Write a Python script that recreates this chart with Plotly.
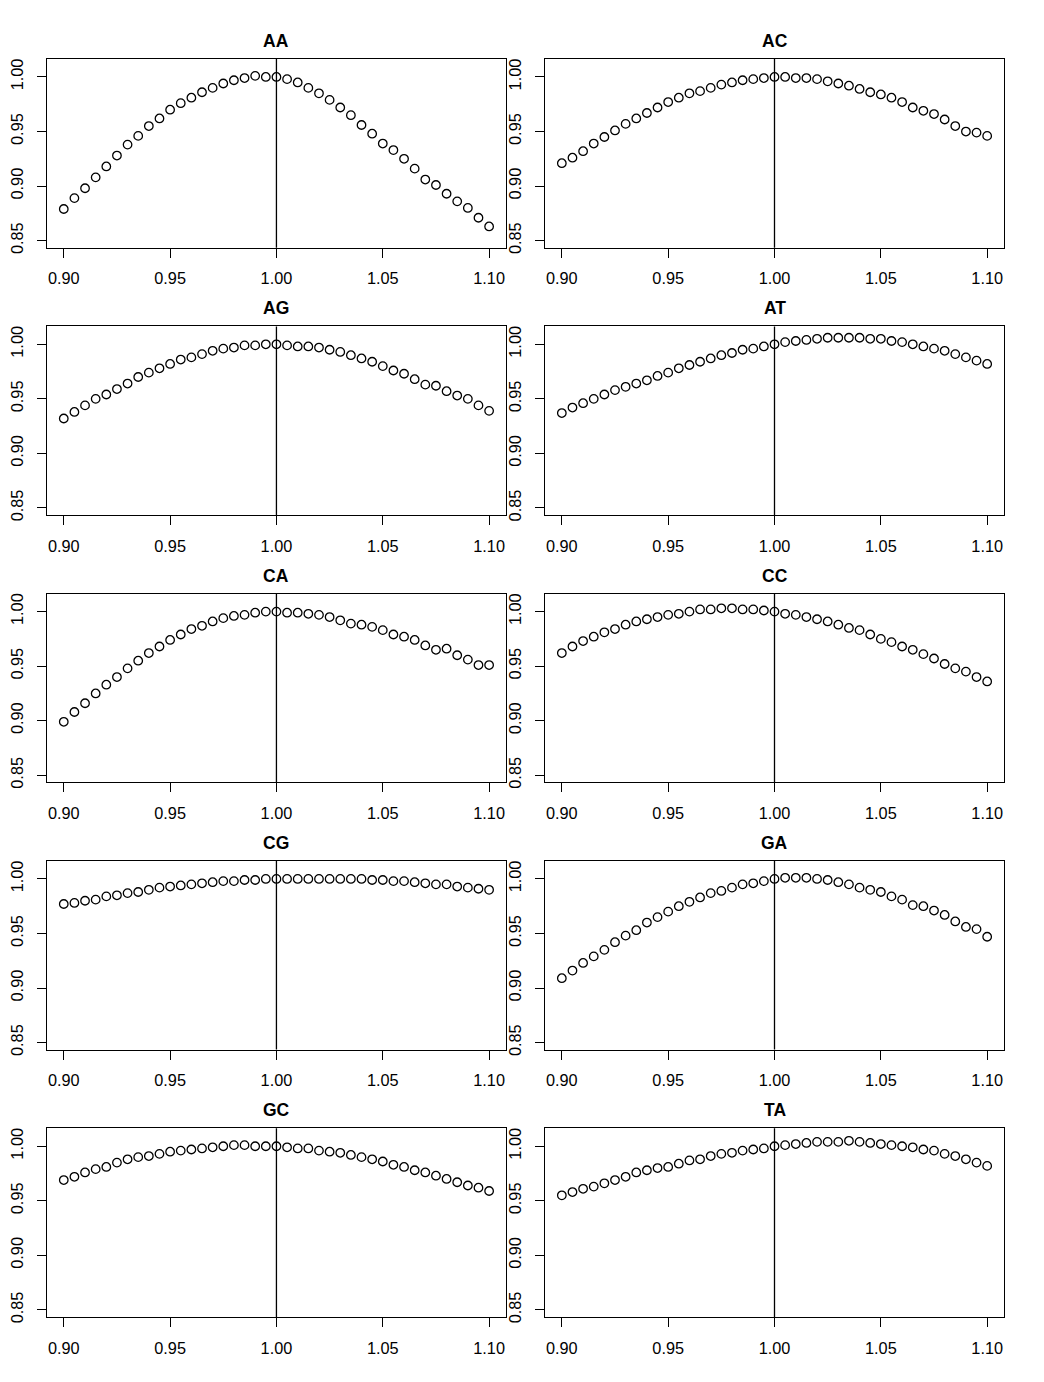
import plotly.graph_objects as go

x_vals = [round(0.90 + 0.005 * i, 3) for i in range(41)]

panel_names = ["AA", "AC", "AG", "AT", "CA", "CC", "CG", "GA", "GC", "TA"]

AA = [0.879, 0.889, 0.898, 0.908, 0.918, 0.928, 0.938, 0.946, 0.955, 0.962,
      0.970, 0.976, 0.981, 0.986, 0.990, 0.994, 0.997, 0.999, 1.001, 1.000,
      1.000, 0.998, 0.995, 0.990, 0.985, 0.979, 0.972, 0.965, 0.956, 0.948,
      0.939, 0.933, 0.925, 0.916, 0.906, 0.901, 0.893, 0.886, 0.880, 0.871,
      0.863]
AC = [0.921, 0.926, 0.932, 0.939, 0.945, 0.951, 0.957, 0.962, 0.967, 0.972,
      0.977, 0.981, 0.985, 0.987, 0.990, 0.993, 0.995, 0.997, 0.998, 0.999,
      1.000, 1.000, 0.999, 0.999, 0.998, 0.996, 0.994, 0.992, 0.989, 0.986,
      0.984, 0.981, 0.977, 0.972, 0.969, 0.966, 0.961, 0.955, 0.950, 0.949,
      0.946]
AG = [0.932, 0.938, 0.944, 0.950, 0.954, 0.959, 0.964, 0.970, 0.974, 0.978,
      0.982, 0.986, 0.988, 0.991, 0.994, 0.996, 0.997, 0.999, 0.999, 1.000,
      1.000, 0.999, 0.998, 0.998, 0.997, 0.995, 0.993, 0.990, 0.987, 0.984,
      0.980, 0.976, 0.973, 0.968, 0.963, 0.962, 0.957, 0.953, 0.950, 0.944,
      0.939]
AT = [0.937, 0.942, 0.946, 0.950, 0.954, 0.958, 0.961, 0.964, 0.967, 0.971,
      0.974, 0.978, 0.981, 0.984, 0.987, 0.990, 0.992, 0.995, 0.996, 0.998,
      1.000, 1.002, 1.003, 1.004, 1.005, 1.006, 1.006, 1.006, 1.006, 1.005,
      1.005, 1.003, 1.002, 1.000, 0.998, 0.996, 0.994, 0.991, 0.988, 0.985,
      0.982]
CA = [0.899, 0.908, 0.916, 0.925, 0.933, 0.940, 0.948, 0.955, 0.962, 0.968,
      0.974, 0.979, 0.984, 0.987, 0.991, 0.994, 0.996, 0.997, 0.999, 1.000,
      1.000, 0.999, 0.999, 0.998, 0.997, 0.995, 0.992, 0.989, 0.988, 0.986,
      0.983, 0.979, 0.977, 0.974, 0.969, 0.965, 0.966, 0.960, 0.956, 0.951,
      0.951]
CC = [0.962, 0.968, 0.973, 0.977, 0.981, 0.984, 0.988, 0.991, 0.993, 0.995,
      0.997, 0.998, 1.000, 1.002, 1.002, 1.003, 1.003, 1.002, 1.002, 1.001,
      1.000, 0.998, 0.997, 0.995, 0.993, 0.991, 0.988, 0.985, 0.983, 0.979,
      0.975, 0.972, 0.968, 0.965, 0.961, 0.957, 0.952, 0.948, 0.945, 0.940,
      0.936]
CG = [0.977, 0.978, 0.980, 0.981, 0.984, 0.985, 0.987, 0.988, 0.990, 0.992,
      0.993, 0.994, 0.995, 0.996, 0.997, 0.998, 0.998, 0.999, 0.999, 1.000,
      1.000, 1.000, 1.000, 1.000, 1.000, 1.000, 1.000, 1.000, 1.000, 0.999,
      0.999, 0.998, 0.998, 0.997, 0.996, 0.995, 0.995, 0.993, 0.992, 0.991,
      0.990]
GA = [0.909, 0.916, 0.923, 0.929, 0.935, 0.942, 0.948, 0.953, 0.960, 0.965,
      0.970, 0.975, 0.979, 0.983, 0.987, 0.989, 0.992, 0.995, 0.996, 0.998,
      1.000, 1.001, 1.001, 1.001, 1.000, 0.999, 0.997, 0.995, 0.992, 0.990,
      0.988, 0.984, 0.981, 0.976, 0.975, 0.971, 0.967, 0.961, 0.956, 0.954,
      0.947]
GC = [0.969, 0.972, 0.976, 0.979, 0.981, 0.985, 0.988, 0.990, 0.991, 0.993,
      0.995, 0.996, 0.997, 0.998, 0.999, 1.000, 1.001, 1.001, 1.000, 1.000,
      1.000, 0.999, 0.998, 0.998, 0.996, 0.995, 0.994, 0.992, 0.990, 0.988,
      0.986, 0.983, 0.981, 0.978, 0.976, 0.973, 0.970, 0.967, 0.964, 0.962,
      0.959]
TA = [0.955, 0.958, 0.961, 0.963, 0.966, 0.969, 0.972, 0.976, 0.978, 0.980,
      0.981, 0.984, 0.987, 0.988, 0.991, 0.993, 0.994, 0.996, 0.997, 0.998,
      1.000, 1.001, 1.002, 1.003, 1.004, 1.004, 1.004, 1.005, 1.004, 1.003,
      1.002, 1.001, 1.000, 0.999, 0.997, 0.996, 0.993, 0.991, 0.988, 0.985,
      0.982]

series = [AA, AC, AG, AT, CA, CC, CG, GA, GC, TA]

x_tick_vals = [0.90, 0.95, 1.00, 1.05, 1.10]
x_tick_text = ["0.90", "0.95", "1.00", "1.05", "1.10"]
y_tick_vals = [0.85, 0.90, 0.95, 1.00]
y_tick_text = ["0.85", "0.90", "0.95", "1.00"]
ref_x = 1.00

# page body has an 8px margin; keep the figure small enough that the page
# never overflows the 1044x1382 window
OFF = 8
W, H = 1020, 1360
col_left = [39 - OFF, 541 - OFF]
col_right = [502 - OFF, 1004 - OFF]
row_top0 = 59.3 - OFF
row_step = 268.5
row_h = 189.4

FONT = "Liberation Sans, Arial, Helvetica, sans-serif"

fig = go.Figure()
layout = dict(
    width=W, height=H,
    margin=dict(l=0, r=0, t=0, b=0),
    paper_bgcolor="white", plot_bgcolor="white",
    showlegend=False,
    font=dict(family=FONT, color="black"),
)
annotations = []
shapes = []

for i, (name, yv) in enumerate(zip(panel_names, series)):
    r, c = divmod(i, 2)
    top = row_top0 + r * row_step
    bot = top + row_h
    xd = [col_left[c] / W, col_right[c] / W]
    yd = [1 - bot / H, 1 - top / H]
    n = i + 1
    xa = "x" if n == 1 else f"x{n}"
    ya = "y" if n == 1 else f"y{n}"
    fig.add_trace(go.Scatter(
        x=x_vals, y=yv, mode="markers", xaxis=xa, yaxis=ya,
        marker=dict(symbol="circle-open", size=8.5, color="black",
                    line=dict(width=1.3, color="black")),
        hoverinfo="x+y",
    ))
    common = dict(showgrid=False, zeroline=False, showline=True, mirror=True,
                  linecolor="black", linewidth=1.3, ticks="outside",
                  ticklen=9, tickwidth=1.2, tickcolor="black",
                  tickfont=dict(family=FONT, size=16.3, color="black"))
    layout["xaxis" if n == 1 else f"xaxis{n}"] = dict(
        domain=xd, anchor=ya, range=[0.892, 1.108],
        tickvals=x_tick_vals, ticktext=x_tick_text, ticklabelstandoff=7,
        **common)
    layout["yaxis" if n == 1 else f"yaxis{n}"] = dict(
        domain=yd, anchor=xa, range=[0.8436, 1.0164],
        tickvals=y_tick_vals, ticktext=y_tick_text, tickangle=-90,
        ticklabelstandoff=7,
        **common)
    shapes.append(dict(type="line", xref=xa, yref=f"{ya} domain",
                       x0=ref_x, x1=ref_x, y0=0, y1=1,
                       line=dict(color="black", width=1.3)))
    annotations.append(dict(
        text=f"<b>{name}</b>", xref="paper", yref="paper",
        x=(xd[0] + xd[1]) / 2, y=1 - (top - 18) / H,
        xanchor="center", yanchor="middle", showarrow=False,
        font=dict(family=FONT, size=17.5, color="black")))

layout["annotations"] = annotations
layout["shapes"] = shapes
fig.update_layout(**layout)
fig.write_html("out.html")
